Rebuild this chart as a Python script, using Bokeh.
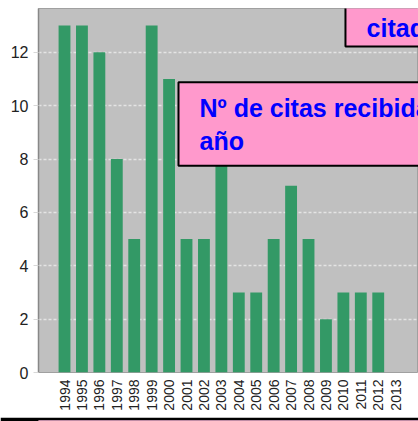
import math
from bokeh.plotting import figure
from bokeh.layouts import column
from bokeh.models import BoxAnnotation, Label, FixedTicker, Range1d
from bokeh.embed import file_html
from bokeh.resources import INLINE

# ---- data ----
years = list(range(1994, 2014))
year_labels = [str(y) for y in years]
citas = [13, 13, 12, 8, 5, 13, 11, 5, 5, 8, 3, 3, 5, 7, 5, 2, 3, 3, 3, 0]
y_ticks = [0, 2, 4, 6, 8, 10, 12]
grid_ticks = [2, 4, 6, 8, 10, 12]
note_main = "Nº de citas recibidas por\naño"
note_top = "citados"

p = figure(width=418, height=413, output_backend="svg", toolbar_location=None,
           x_range=Range1d(1992.508, 2014.31), y_range=Range1d(0, 13.64),
           min_border_left=38, min_border_right=0, min_border_top=8,
           min_border_bottom=39)

p.background_fill_color = "#C0C0C0"
p.border_fill_color = "white"
p.outline_line_color = "#A0A0A0"
p.outline_line_width = 1

p.xgrid.visible = False
p.ygrid.ticker = FixedTicker(ticks=grid_ticks)
p.ygrid.grid_line_color = "#E4E4E4"
p.ygrid.grid_line_dash = "3 2"
p.ygrid.grid_line_width = 1.5

xax = p.xaxis[0]
xax.ticker = FixedTicker(ticks=years)
xax.major_label_overrides = {y: s for y, s in zip(years, year_labels)}
xax.major_label_orientation = math.pi / 2
xax.axis_line_color = None
xax.major_tick_in = 0
xax.major_tick_out = 0
xax.minor_tick_line_color = None
xax.major_label_standoff = 7
xax.major_label_text_font = "Liberation Sans"
xax.major_label_text_font_size = "14px"
xax.major_label_text_color = "#222222"

yax = p.yaxis[0]
yax.ticker = FixedTicker(ticks=y_ticks)
yax.axis_line_color = "#888888"
yax.axis_line_width = 1.5
yax.major_tick_in = 0
yax.major_tick_out = 5
yax.major_tick_line_color = "#D8D8D8"
yax.minor_tick_line_color = None
yax.major_label_standoff = 5
yax.major_label_text_font = "Liberation Sans"
yax.major_label_text_font_size = "16px"
yax.major_label_text_color = "#222222"

p.vbar(x=years, top=citas, width=0.68, fill_color="#339966", line_color=None)

# annotation boxes
p.add_layout(BoxAnnotation(left=2000.54, right=2016, bottom=7.75, top=10.88,
                           fill_color="#FF99CC", fill_alpha=1,
                           line_color="black", line_alpha=1, line_width=2))
p.add_layout(Label(x=2001.745, y=10.44, text=note_main, text_align="left",
                   text_baseline="top", text_font="Liberation Sans",
                   text_font_style="bold", text_font_size="25px",
                   text_color="#0000FF"))

p.add_layout(BoxAnnotation(left=2010.12, right=2016, bottom=12.22, top=16,
                           fill_color="#FF99CC", fill_alpha=1,
                           line_color="black", line_alpha=1, line_width=2))
p.add_layout(Label(x=2011.33, y=12.9, text=note_top, text_align="left",
                   text_baseline="alphabetic", text_font="Liberation Sans",
                   text_font_style="bold", text_font_size="25px",
                   text_color="#0000FF"))

# pink note box peeking in at the bottom edge (black top border, pink fill)
strip = figure(width=418, height=8, output_backend="svg", toolbar_location=None,
               min_border_left=0, min_border_right=0, min_border_top=3,
               min_border_bottom=0)
strip.border_fill_color = "black"
strip.background_fill_color = "#FF99CC"
strip.outline_line_color = None
strip.xaxis.visible = False
strip.yaxis.visible = False
strip.grid.visible = False

layout = column(p, strip, spacing=0)

open("out.html", "w").write(file_html(layout, INLINE))
